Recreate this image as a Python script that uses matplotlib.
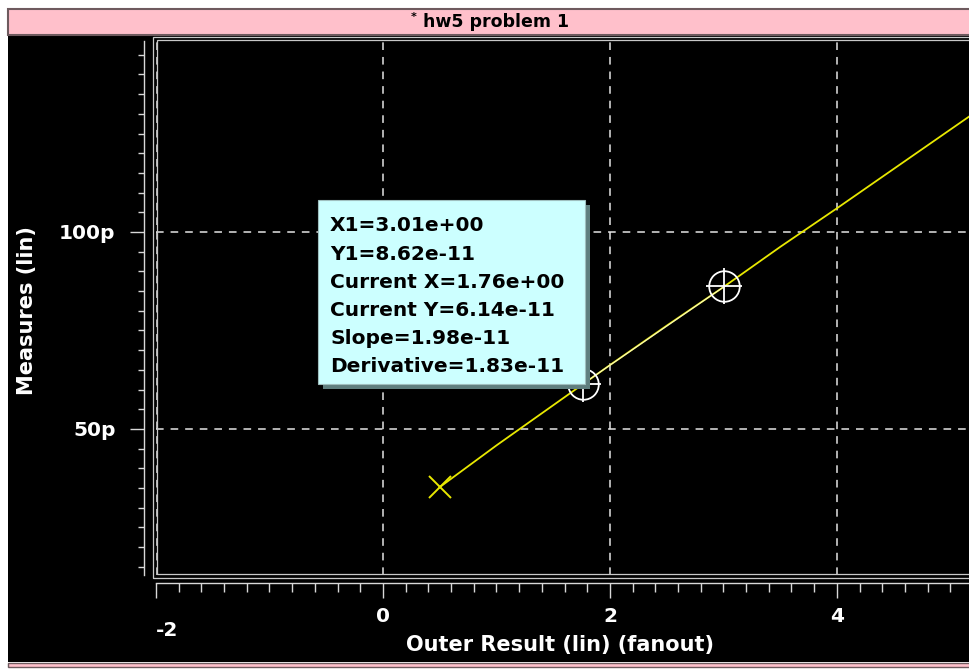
import numpy as np
import matplotlib
matplotlib.use('Agg')
import matplotlib.pyplot as plt
from matplotlib.patches import Rectangle
from matplotlib.ticker import MultipleLocator, FixedLocator, FixedFormatter

plt.rcParams['font.family'] = ['DejaVu Sans']
plt.rcParams['axes.unicode_minus'] = False
plt.rcParams['lines.scale_dashes'] = False

# fanout sweep and measured delay (in ps)
fanout = [0.5, 1.0, 1.5, 2.0, 2.5, 3.0, 3.5, 4.0, 4.5, 5.0, 5.5]
delay_ps = [35.2, 45.8, 56.0, 66.2, 76.2, 86.0, 96.2, 106.0, 116.0, 126.0, 136.0]

# cursor readout (current point, X1 point)
cursor_x = [1.76, 3.01]
cursor_y = [61.4, 86.2]
info_lines = ['X1=3.01e+00', 'Y1=8.62e-11', 'Current X=1.76e+00',
              'Current Y=6.14e-11', 'Slope=1.98e-11', 'Derivative=1.83e-11']

x_major = [-2, 0, 2, 4]
x_labels = ['', '0', '2', '4']
y_major = [50, 100]
y_labels = ['50p', '100p']

W, H = 969, 669

def fx(px):
    return px / W

def fy(py):
    return 1 - py / H

def fig_rect(x0, y0, x1, y1, **kw):
    '''
    Rectangle in figure pixel coords (y from top).
    '''
    r = Rectangle((fx(x0), fy(y1)), fx(x1) - fx(x0), fy(y0) - fy(y1),
                  transform=fig.transFigure, **kw)
    fig.add_artist(r)
    return r

fig = plt.figure(figsize=(W / 100, H / 100), dpi=100, facecolor='white')

# window background, title bar, bottom strip
fig_rect(8, 36, 975, 662, facecolor='black', edgecolor='none', zorder=-2)
fig_rect(8, 8.5, 975, 35, facecolor='#ffc0cb', edgecolor='#6e5a5e', lw=1.5, zorder=-1)
fig_rect(8, 663, 975, 667, facecolor='#ffc0cb', edgecolor='#6e5a5e', lw=1.0, zorder=-1)
fig.text(fx(414), fy(17), '*', fontsize=8, weight='bold', ha='center', va='center')
fig.text(fx(496), fy(22), 'hw5 problem 1', fontsize=12.5, weight='bold',
         ha='center', va='center')

ax = fig.add_axes([fx(156), fy(575), (973 - 156) / W, (575 - 41) / H])
ax.set_facecolor('black')
ax.set_xlim(-2, 5.2)
ax.set_ylim(12.9, 148.5)

for s in ['top', 'right']:
    ax.spines[s].set_visible(False)
ax.spines['left'].set_position(('outward', 8.6))
ax.spines['bottom'].set_position(('outward', 5.8))
for s in ['left', 'bottom']:
    ax.spines[s].set_color('#d8d8d8')
    ax.spines[s].set_linewidth(1.0)

ax.xaxis.set_major_locator(FixedLocator(x_major))
ax.xaxis.set_major_formatter(FixedFormatter(x_labels))
ax.xaxis.set_minor_locator(MultipleLocator(0.2))
ax.yaxis.set_major_locator(FixedLocator(y_major))
ax.yaxis.set_major_formatter(FixedFormatter(y_labels))
ax.yaxis.set_minor_locator(MultipleLocator(5))

ax.tick_params(axis='x', which='major', length=10.8, width=1.0, color='#d8d8d8',
               labelcolor='white', labelsize=14.5, pad=6.5)
ax.tick_params(axis='x', which='minor', length=6.5, width=1.0, color='#d8d8d8')
ax.tick_params(axis='y', which='major', length=10, width=1.0, color='#d8d8d8',
               labelcolor='white', labelsize=14.5, pad=10.5)
ax.tick_params(axis='y', which='minor', length=4.3, width=1.0, color='#d8d8d8')
for lab in ax.get_xticklabels() + ax.get_yticklabels():
    lab.set_fontweight('bold')

ax.annotate('-2', xy=(x_major[0], 0), xycoords=('data', 'axes fraction'),
            xytext=(0, -55), textcoords='offset pixels', ha='left', va='center',
            color='white', fontsize=14.5, weight='bold', annotation_clip=False)

ax.grid(which='major', color='#e4e4e4', ls=(0, (5.5, 5)), lw=1.1)

ax.set_xlabel('Outer Result (lin) (fanout)', color='white', fontsize=15, weight='bold')
ax.xaxis.set_label_coords(0.4945, -0.131)
ax.xaxis.label.set_va('center')
ax.set_ylabel('Measures (lin)', color='white', fontsize=15, weight='bold')
ax.yaxis.set_label_coords(-0.158, 0.496)
ax.yaxis.label.set_va('center')

# data curve and start marker
ax.plot(fanout, delay_ps, color='#e8e800', lw=1.3, zorder=3)
ax.plot(fanout[0], delay_ps[0], ls='none', marker='x', ms=16, mew=1.4,
        color='#e8e800', zorder=3)

# cursors
ax.plot(cursor_x, cursor_y, color='white', lw=0.9, alpha=0.7, zorder=4)
ax.plot(cursor_x, cursor_y, ls='none', marker='o', ms=22, mfc='none',
        mec='white', mew=1.3, zorder=4)
ax.plot(cursor_x, cursor_y, ls='none', marker='+', ms=26, mec='white',
        mew=1.3, zorder=4)

# double frame around plot area
fig_rect(153, 37, 980, 578, fill=False, edgecolor='#c8c8c8', lw=0.9, zorder=2)
fig_rect(157, 40, 980, 574, fill=False, edgecolor='#c8c8c8', lw=0.9, zorder=2)

# cursor info box
fig_rect(323, 205, 590, 389, facecolor='#5f7f7f', edgecolor='none', zorder=5)
fig_rect(318, 200, 585, 384, facecolor='#ccffff', edgecolor='#9fbfbf', lw=0.8, zorder=5)
for i, line in enumerate(info_lines):
    fig.text(fx(330), fy(231.5 + 28 * i), line, fontsize=14.5, weight='bold',
             color='black', ha='left', va='baseline', zorder=6)

fig.savefig('out.png', dpi=100, facecolor=fig.get_facecolor())
